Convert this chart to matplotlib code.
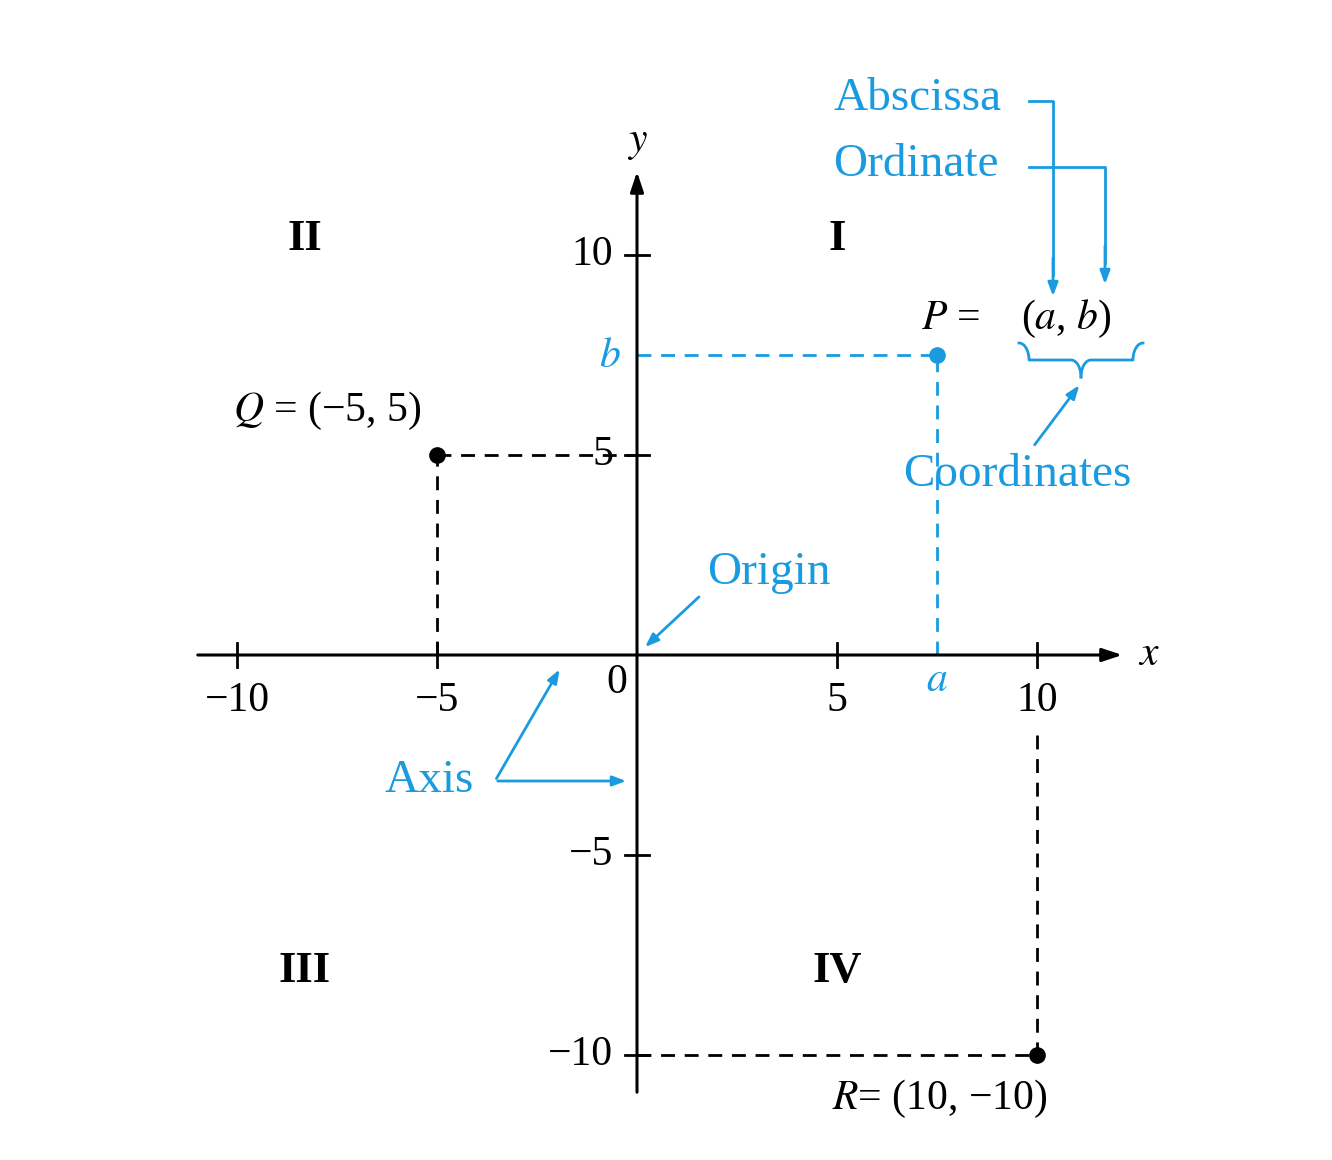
import matplotlib
matplotlib.use("Agg")
import matplotlib.pyplot as plt
import numpy as np

xticks = [-10, -5, 5, 10]
yticks = [-10, -5, 5, 10]
Q = (-5, 5)
R = (10, -10)
P = (7.5, 7.5)
quadrants = [("I", 5, 10.4), ("II", -8.3, 10.4), ("III", -8.3, -7.9), ("IV", 5, -7.9)]

BLUE = "#1a9be0"
plt.rcParams['font.family'] = ['Liberation Serif', 'DejaVu Serif']
plt.rcParams['mathtext.fontset'] = 'stix'

fig = plt.figure(figsize=(13.32, 11.6), dpi=100)
ax = fig.add_axes([0, 0, 1, 1])
ax.set_xlim(-15.925, 17.375)
ax.set_ylim(-12.625, 16.375)
ax.axis("off")

ax.annotate("", xy=(12.2, 0), xytext=(-11.05, 0),
            arrowprops=dict(arrowstyle="-|>,head_length=1.2,head_width=0.4", color="k", lw=2.2))
ax.annotate("", xy=(0, 12.15), xytext=(0, -11.0),
            arrowprops=dict(arrowstyle="-|>,head_length=1.2,head_width=0.4", color="k", lw=2.2))
ax.text(12.8, 0, "$x$", fontsize=30, va="center", ha="center")
ax.text(0, 12.8, "$y$", fontsize=30, va="center", ha="center")

tl = 0.3
for t in xticks:
    ax.plot([t, t], [-tl, tl], color="k", lw=2)
    ax.text(t, -1.15, str(t).replace("-", "−"), fontsize=30, ha="center", va="center")
for t in yticks:
    ax.plot([-tl, tl], [t, t], color="k", lw=2)
    ax.text(-0.6, t, str(t).replace("-", "−"), fontsize=30, ha="right", va="center")
ax.text(-0.5, -0.7, "0", fontsize=30, ha="center", va="center")

for s, x, y in quadrants:
    ax.text(x, y, s, fontsize=32, fontweight="bold", ha="center", va="center")

dash = dict(ls=(0, (5, 3.5)), lw=2)
ax.plot([Q[0], Q[0]], [0, Q[1]], color="k", **dash)
ax.plot([Q[0], 0], [Q[1], Q[1]], color="k", **dash)
ax.plot(*Q, "o", color="k", ms=11)
ax.text(-10.1, 6.1, r"$Q$ = (−5, 5)", fontsize=30, ha="left", va="center")

ax.plot([R[0], R[0]], [-2.0, R[1]], color="k", **dash)
ax.plot([0, R[0]], [R[1], R[1]], color="k", **dash)
ax.plot(*R, "o", color="k", ms=11)
ax.text(10.25, -11.1, r"$R$= (10, −10)", fontsize=30, ha="right", va="center")

ax.plot([P[0], P[0]], [0, P[1]], color=BLUE, **dash)
ax.plot([0, P[0]], [P[1], P[1]], color=BLUE, **dash)
ax.plot(*P, "o", color=BLUE, ms=11)
ax.text(-0.4, 7.45, "$b$", fontsize=30, color=BLUE, ha="right", va="center")
ax.text(7.5, -0.65, "$a$", fontsize=30, color=BLUE, ha="center", va="center")
ax.text(7.1, 8.4, r"$P$ = ", fontsize=30, ha="left", va="center")
ax.text(9.6, 8.4, r"($a$, $b$)", fontsize=30, ha="left", va="center")

# brace
def brace(x0, x1, ytop, h):
    xm = (x0 + x1) / 2
    t = np.linspace(0, 1, 30)
    r = 0.25
    # left half
    xs = [x0, x0 + r, xm - r, xm]
    ys = [ytop, ytop - h / 2, ytop - h / 2, ytop - h]
    ax.plot(np.concatenate([x0 + r * np.sin(t * np.pi / 2), np.linspace(x0 + r, xm - r, 10),
                            xm - r + r * np.sin(t * np.pi / 2)]),
            np.concatenate([ytop - h / 2 * (1 - np.cos(t * np.pi / 2)), np.full(10, ytop - h / 2),
                            ytop - h / 2 - h / 2 * (1 - np.cos(t * np.pi / 2))]), color=BLUE, lw=2)
    ax.plot(np.concatenate([x1 - r * np.sin(t * np.pi / 2), np.linspace(x1 - r, xm + r, 10),
                            xm + r - r * np.sin(t * np.pi / 2)]),
            np.concatenate([ytop - h / 2 * (1 - np.cos(t * np.pi / 2)), np.full(10, ytop - h / 2),
                            ytop - h / 2 - h / 2 * (1 - np.cos(t * np.pi / 2))]), color=BLUE, lw=2)
brace(9.55, 12.65, 7.8, 0.85)

ax.text(4.9, 13.9, "Abscissa", fontsize=34, color=BLUE, ha="left", va="center")
ax.text(4.9, 12.25, "Ordinate", fontsize=34, color=BLUE, ha="left", va="center")
ax.plot([9.8, 10.4, 10.4], [13.85, 13.85, 9.5], color=BLUE, lw=2)
ax.annotate("", xy=(10.4, 8.9), xytext=(10.4, 10), arrowprops=dict(arrowstyle="-|>,head_length=0.8,head_width=0.3", color=BLUE, lw=2))
ax.plot([9.8, 11.7, 11.7], [12.2, 12.2, 9.8], color=BLUE, lw=2)
ax.annotate("", xy=(11.7, 9.2), xytext=(11.7, 10.3), arrowprops=dict(arrowstyle="-|>,head_length=0.8,head_width=0.3", color=BLUE, lw=2))

ax.text(9.5, 4.5, "Coordinates", fontsize=34, color=BLUE, ha="center", va="center")
ax.annotate("", xy=(11.1, 6.8), xytext=(9.9, 5.2),
            arrowprops=dict(arrowstyle="-|>,head_length=0.8,head_width=0.3", color=BLUE, lw=2))

ax.text(1.75, 2.05, "Origin", fontsize=34, color=BLUE, ha="left", va="center")
ax.annotate("", xy=(0.15, 0.15), xytext=(1.6, 1.5),
            arrowprops=dict(arrowstyle="-|>,head_length=0.8,head_width=0.3", color=BLUE, lw=2))

ax.text(-5.2, -3.15, "Axis", fontsize=34, color=BLUE, ha="center", va="center")
ax.annotate("", xy=(-1.9, -0.3), xytext=(-3.55, -3.15),
            arrowprops=dict(arrowstyle="-|>,head_length=0.8,head_width=0.3", color=BLUE, lw=2))
ax.annotate("", xy=(-0.2, -3.15), xytext=(-3.55, -3.15),
            arrowprops=dict(arrowstyle="-|>,head_length=0.8,head_width=0.3", color=BLUE, lw=2))

fig.savefig("out.png", dpi=100, facecolor="white")
